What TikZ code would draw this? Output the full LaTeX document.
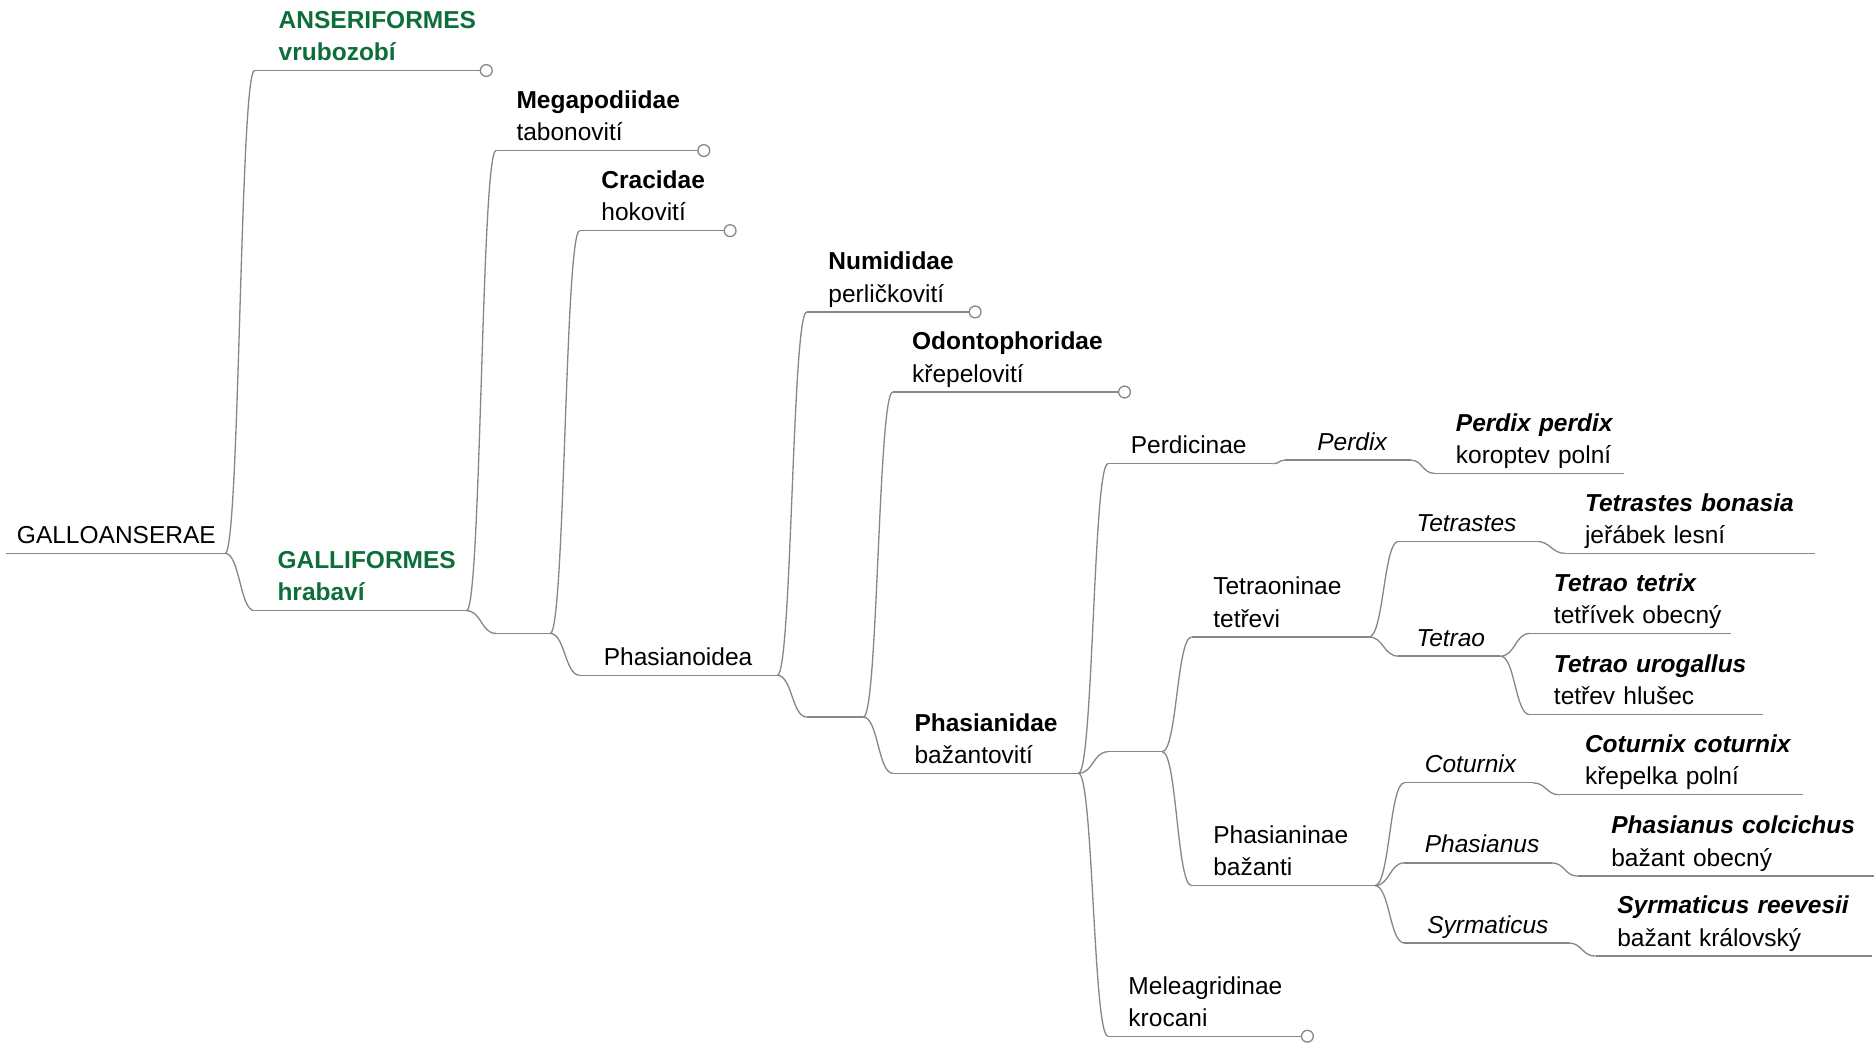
\documentclass[tikz,border=0pt]{standalone}
\usepackage{fontspec}
\setmainfont{Liberation Sans}
\usetikzlibrary{arrows.meta,calc}
\definecolor{ordgreen}{RGB}{14,110,58}
\definecolor{lngray}{RGB}{135,135,135}

\begin{document}
\begin{tikzpicture}[
  x=1pt, y=-1pt,
  font=\fontsize{20.5}{27}\selectfont,
  ln/.style={draw=lngray, line width=1.1pt},
  nb/.style args={#1/#2}{anchor=south west, align=left, inner xsep=0pt,
            inner ysep=0pt, text width=#1pt,
            execute at begin node={\hyphenpenalty=10000\leftskip=#2pt\relax},
            execute at end node=\strut},
  n/.style args={#1/#2}{nb=#1/#2, append after command={
            (\tikzlastnode.south west) edge[ln] (\tikzlastnode.south east)}},
  lf/.style args={#1/#2}{nb=#1/#2, append after command={
            (\tikzlastnode.south west)
            edge[ln, -{Circle[length=11pt, fill=white]}] (\tikzlastnode.south east)}},
  ord/.style={text=ordgreen},
  e/.style={ln, to path={.. controls ($(\tikztostart)!.5!(\tikztotarget|-\tikztostart)$)
            and ($(\tikztotarget)!.5!(\tikztostart|-\tikztotarget)$) .. (\tikztotarget)}}]

% 1 unit = 1px of the 1568 x 874 layout, y runs downwards
\useasboundingbox (0,0) rectangle (1568,874);

\node[n=183/9] (gal) at (5,463) {GALLOANSERAE};
\node[lf=199/20, ord] (anser) at (213,59)
      {\textbf{ANSERIFORMES}\\\textbf{vrubozobí}};
\node[n=177/19, ord] (galli) at (213,511)
      {\textbf{GALLIFORMES}\\\textbf{hrabaví}};

\node[lf=179/17] (mega) at (415,126) {\textbf{Megapodiidae}\\tabonovití};
\node[n=45/0] (jgal) at (415,530) {};
\node[lf=131/18] (crac) at (485,193) {\textbf{Cracidae}\\hokovití};
\node[n=165/20] (phoid) at (485,565) {Phasianoidea};

\node[lf=146/18] (numi) at (675,261) {\textbf{Numididae}\\perličkovití};
\node[n=47/0] (jpha) at (675,600) {};
\node[lf=199/16] (odon) at (747,328) {\textbf{Odontophoridae}\\křepelovití};
\node[n=155/18] (phid) at (747,647) {\textbf{Phasianidae}\\bažantovití};

\node[n=138/19] (perc) at (927,388) {Perdicinae};
\node[n=45/0] (jsub) at (927,629) {};
\node[lf=172/17] (mele) at (927,867) {Meleagridinae\\krocani};
\node[n=148/18] (tetn) at (997,533) {Tetraoninae\\tetřevi};
\node[n=153/18] (phin) at (997,741) {Phasianinae\\bažanti};

% ------------------------------------------------- genera and species ---
\node[n=105/27] (gper) at (1075,385) {\textit{Perdix}};
\node[n=158/18] (sper) at (1200,396)
      {\textbf{\textit{Perdix~perdix}}\\koroptev~polní};
\node[n=115/15] (gtes) at (1170,453) {\textit{Tetrastes}};
\node[n=85/15] (gtao) at (1170,549) {\textit{Tetrao}};
\node[n=208/16] (sbon) at (1310,463)
      {\textbf{\textit{Tetrastes~bonasia}}\\jeřábek~lesní};
\node[n=168/20] (stet) at (1280,530)
      {\textbf{\textit{Tetrao~tetrix}}\\tetřívek~obecný};
\node[n=195/20] (suro) at (1280,598)
      {\textbf{\textit{Tetrao~urogallus}}\\tetřev~hlušec};
\node[n=107/17] (gcot) at (1175,655) {\textit{Coturnix}};
\node[n=123/17] (gpha) at (1175,722) {\textit{Phasianus}};
\node[n=137/19] (gsyr) at (1175,789) {\textit{Syrmaticus}};
\node[n=203/21] (scot) at (1305,665)
      {\textbf{\textit{Coturnix~coturnix}}\\křepelka~polní};
\node[n=248/28] (spha) at (1320,733)
      {\textbf{\textit{Phasianus~colcichus}}\\bažant~obecný};
\node[n=231/18] (ssyr) at (1335,800)
      {\textbf{\textit{Syrmaticus~reevesii}}\\bažant~královský};

\draw[e] (gal.south east) to (anser.south west);
\draw[e] (gal.south east) to (galli.south west);
\draw[e] (galli.south east) to (mega.south west);
\draw[e] (galli.south east) to (jgal.south west);
\draw[e] (jgal.south east) to (crac.south west);
\draw[e] (jgal.south east) to (phoid.south west);
\draw[e] (phoid.south east) to (numi.south west);
\draw[e] (phoid.south east) to (jpha.south west);
\draw[e] (jpha.south east) to (odon.south west);
\draw[e] (jpha.south east) to (phid.south west);
\draw[e] (phid.south east) to (perc.south west);
\draw[e] (phid.south east) to (jsub.south west);
\draw[e] (phid.south east) to (mele.south west);
\draw[e] (jsub.south east) to (tetn.south west);
\draw[e] (jsub.south east) to (phin.south west);
\draw[e] (perc.south east) to (gper.south west);
\draw[e] (gper.south east) to (sper.south west);
\draw[e] (tetn.south east) to (gtes.south west);
\draw[e] (tetn.south east) to (gtao.south west);
\draw[e] (gtes.south east) to (sbon.south west);
\draw[e] (gtao.south east) to (stet.south west);
\draw[e] (gtao.south east) to (suro.south west);
\draw[e] (phin.south east) to (gcot.south west);
\draw[e] (phin.south east) to (gpha.south west);
\draw[e] (phin.south east) to (gsyr.south west);
\draw[e] (gcot.south east) to (scot.south west);
\draw[e] (gpha.south east) to (spha.south west);
\draw[e] (gsyr.south east) to (ssyr.south west);

\end{tikzpicture}
\end{document}
